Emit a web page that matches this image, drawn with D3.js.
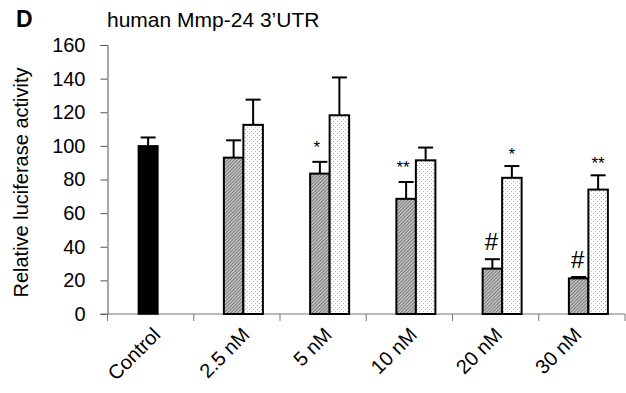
<!DOCTYPE html>
<html>
<head>
<meta charset="utf-8">
<script src="https://cdn.jsdelivr.net/npm/d3@7"></script>
<style>
  body { margin: 0; background: #fff; }
  text { font-family: "Liberation Sans", Arial, sans-serif; fill: #000; }
</style>
</head>
<body>
<div id="chart"></div>
<script>
var width = 626,
    height = 393,
    margin = {top: 45, right: 1, bottom: 79, left: 107.5};

// data
var categories = ["Control", "2.5 nM", "5 nM", "10 nM", "20 nM", "30 nM"];
var controlValue = 100, controlErr = 5;
var seriesA = [null, 93, 83.5, 68.5, 27, 21.2];     // hatched bars
var seriesAErr = [null, 10.3, 7, 10, 5.6, 0.8];
var seriesB = [null, 112.5, 118.2, 91.4, 81, 74];   // dotted bars
var seriesBErr = [null, 15, 22.5, 7.6, 7, 8.5];
var marksA = ["", "", "*", "**", "#", "#"];
var marksB = ["", "", "", "", "*", "**"];
var yTicks = [0, 20, 40, 60, 80, 100, 120, 140, 160];

// small nudges of the rotated category labels, as in the original
var labelNudge = [11, 14, 10, 9, 8, 1];

var svg = d3.select("#chart").append("svg")
  .attr("width", width)
  .attr("height", height);

var defs = svg.append("defs");
var hatch = defs.append("pattern")
  .attr("id", "hatch")
  .attr("patternUnits", "userSpaceOnUse")
  .attr("width", 2.4).attr("height", 2.4)
  .attr("patternTransform", "rotate(45)");
hatch.append("rect").attr("width", 2.4).attr("height", 2.4).attr("fill", "#bdbdbd");
hatch.append("line").attr("x1", 0).attr("y1", 0).attr("x2", 0).attr("y2", 2.4)
  .attr("stroke", "#4a4a4a").attr("stroke-width", 1);

var dots = defs.append("pattern")
  .attr("id", "dots")
  .attr("patternUnits", "userSpaceOnUse")
  .attr("width", 4).attr("height", 4);
dots.append("rect").attr("width", 4).attr("height", 4).attr("fill", "#fff");
dots.append("rect").attr("x", 1).attr("y", 1).attr("width", 1).attr("height", 1).attr("fill", "#aaa");
dots.append("rect").attr("x", 3).attr("y", 3).attr("width", 1).attr("height", 1).attr("fill", "#bbb");

var x = d3.scaleBand()
  .domain(categories)
  .range([margin.left, width - margin.right])
  .padding(0);

var y = d3.scaleLinear()
  .domain([0, 160])
  .range([height - margin.bottom, margin.top]);

var barW = 19.5,
    groupShift = 6.5,
    ctrlShift = -2.5,
    capW = 15;

// axes
var yAxis = svg.append("g")
  .attr("transform", "translate(" + margin.left + ",0)")
  .call(d3.axisLeft(y).tickValues(yTicks).tickSize(7).tickPadding(15));
yAxis.select(".domain").attr("stroke", "#555");
yAxis.selectAll(".tick line").attr("stroke", "#555");
yAxis.selectAll("text").style("font-size", "20px").attr("fill", "#000");

var xAxisG = svg.append("g").attr("transform", "translate(0," + y(0) + ")");
xAxisG.append("line")
  .attr("x1", margin.left - 7).attr("x2", width - margin.right)
  .attr("stroke", "#777");
xAxisG.selectAll(".xtick")
  .data(categories.concat(["end"]))
  .enter().append("line")
  .attr("class", "xtick")
  .attr("x1", function(d, i) { return i < categories.length ? x(d) : width - margin.right; })
  .attr("x2", function(d, i) { return i < categories.length ? x(d) : width - margin.right; })
  .attr("y1", 0).attr("y2", 7)
  .attr("stroke", "#777");

xAxisG.selectAll(".xlabel")
  .data(categories)
  .enter().append("text")
  .attr("class", "xlabel")
  .attr("text-anchor", "end")
  .style("font-size", "20px")
  .attr("transform", function(d, i) {
    return "translate(" + (x(d) + x.bandwidth() / 2 + labelNudge[i]) + ",22) rotate(-45)";
  })
  .text(function(d) { return d; });

// control bar
var cx = x("Control") + x.bandwidth() / 2 + ctrlShift;
svg.append("rect")
  .attr("x", cx - barW / 2).attr("y", y(controlValue))
  .attr("width", barW).attr("height", y(0) - y(controlValue))
  .attr("fill", "#000").attr("stroke", "#000").attr("stroke-width", 1.5);

function errBar(g, xc, v, e) {
  g.append("line").attr("x1", xc).attr("x2", xc).attr("y1", y(v)).attr("y2", y(v + e))
    .attr("stroke", "#000").attr("stroke-width", 2);
  g.append("line").attr("x1", xc - capW / 2).attr("x2", xc + capW / 2)
    .attr("y1", y(v + e)).attr("y2", y(v + e))
    .attr("stroke", "#000").attr("stroke-width", 2);
}
var errG = svg.append("g");
errBar(errG, cx, controlValue, controlErr);

var bars = svg.append("g");
categories.forEach(function(c, i) {
  if (seriesA[i] == null) return;
  var gc = x(c) + x.bandwidth() / 2 + groupShift;
  var ax = gc - barW, bx = gc;
  errBar(errG, ax + barW / 2, seriesA[i], seriesAErr[i]);
  errBar(errG, bx + barW / 2, seriesB[i], seriesBErr[i]);
  bars.append("rect")
    .attr("x", ax).attr("y", y(seriesA[i]))
    .attr("width", barW).attr("height", y(0) - y(seriesA[i]))
    .attr("fill", "url(#hatch)").attr("stroke", "#000").attr("stroke-width", 2);
  bars.append("rect")
    .attr("x", bx).attr("y", y(seriesB[i]))
    .attr("width", barW).attr("height", y(0) - y(seriesB[i]))
    .attr("fill", "url(#dots)").attr("stroke", "#000").attr("stroke-width", 2);
  if (marksA[i]) {
    var big = marksA[i] === "#";
    svg.append("text")
      .attr("x", ax + barW / 2 - (big ? 1 : 3))
      .attr("y", y(seriesA[i] + seriesAErr[i]) - 9)
      .attr("text-anchor", "middle")
      .style("font-size", big ? "24px" : "17px")
      .text(marksA[i]);
  }
  if (marksB[i]) {
    svg.append("text")
      .attr("x", bx + barW / 2)
      .attr("y", y(seriesB[i] + seriesBErr[i]) - 6)
      .attr("text-anchor", "middle")
      .style("font-size", "17px")
      .text(marksB[i]);
  }
});

// titles
svg.append("text").attr("x", 16).attr("y", 27)
  .style("font-size", "23px").style("font-weight", "bold").text("D");
svg.append("text").attr("x", 107).attr("y", 27)
  .style("font-size", "21px").text("human Mmp-24 3\u2019UTR");
svg.append("text")
  .attr("transform", "translate(28," + (margin.top + (y(0) - margin.top) / 2 + 3) + ") rotate(-90)")
  .attr("text-anchor", "middle")
  .style("font-size", "20px")
  .text("Relative luciferase activity");
</script>
</body>
</html>
